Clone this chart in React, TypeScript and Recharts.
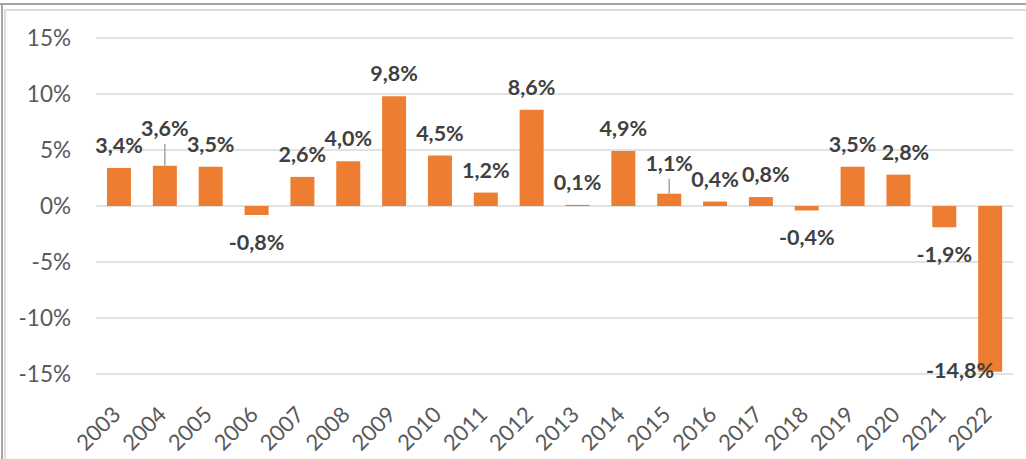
import { BarChart, Bar, XAxis, YAxis, CartesianGrid, LabelList } from "recharts";

const YEARS = ["2003","2004","2005","2006","2007","2008","2009","2010","2011","2012","2013","2014","2015","2016","2017","2018","2019","2020","2021","2022"];
const GROWTH = [3.4, 3.6, 3.5, -0.8, 2.6, 4.0, 9.8, 4.5, 1.2, 8.6, 0.1, 4.9, 1.1, 0.4, 0.8, -0.4, 3.5, 2.8, -1.9, -14.8];
const Y_TICKS = [-15, -10, -5, 0, 5, 10, 15];

const data = YEARS.map((year, i) => ({ year, value: GROWTH[i] }));

// manual label placement, as in the original spreadsheet chart
const NUDGES: Record<string, { dx?: number; dy?: number; leader?: boolean; inside?: boolean }> = {
  "2004": { dy: -15, leader: true },
  "2015": { dy: -8, leader: true },
  "2017": { dx: 5 },
  "2020": { dx: 7 },
  "2022": { dx: -30, inside: true },
};

const FONT = "Lato, 'Open Sans', sans-serif";
const BAR = "#ED7D31";

const fmt = (v: number) => v.toFixed(1).replace(".", ",") + "%";

const BarLabel = (props: any) => {
  const { x, y, width, height, value, index } = props;
  const year = YEARS[index];
  const n = NUDGES[year] || {};
  const top = Math.min(y, y + height);
  const bottom = Math.max(y, y + height);
  const cx = x + width / 2 + (n.dx || 0);
  let cy = value >= 0 ? top - 23 : bottom + 27;
  if (n.inside) cy = bottom - 2;
  cy += n.dy || 0;
  return (
    <g>
      {n.leader && <line x1={x + width / 2} x2={x + width / 2} y1={cy + 16} y2={top} stroke="#a6a6a6" strokeWidth={1.5} />}
      <text x={cx} y={cy} textAnchor="middle" dominantBaseline="central" fill="#404040" fontSize={21.5} fontWeight={700} fontFamily={FONT}>
        {fmt(value)}
      </text>
    </g>
  );
};

const YearTick = ({ x, y, payload }: any) => (
  <text x={x + 3} y={y + 34} transform={`rotate(-45, ${x + 3}, ${y + 34})`} textAnchor="end" fill="#595959" fontSize={22} fontFamily={FONT}>
    {payload.value}
  </text>
);

export default function App() {
  return (
    <div style={{ position: "absolute", left: 0, top: 0, width: 1026, height: 459, background: "#fff", overflow: "hidden" }}>
      <div style={{ position: "absolute", left: 0, top: 3, width: 1026, height: 2, background: "#a6a6a6" }} />
      <div style={{ position: "absolute", left: 1, top: 3, width: 2, height: 456, background: "#a6a6a6" }} />
      <div style={{ position: "absolute", left: 4, top: 9, width: 1022, height: 1.5, background: "#dcdcdc" }} />
      <div style={{ position: "absolute", left: 4, top: 9, width: 1.5, height: 450, background: "#dcdcdc" }} />
      <div style={{ position: "absolute", left: 0, top: 0 }}>
        <BarChart width={1026} height={459} data={data} margin={{ top: 38, right: 13, bottom: 0, left: 0 }}>
          <CartesianGrid vertical={false} stroke="#d9d9d9" strokeWidth={1.5} />
          <XAxis dataKey="year" height={85} axisLine={false} tickLine={false} interval={0} tick={<YearTick />} />
          <YAxis
            width={96}
            domain={[-15, 15]}
            ticks={Y_TICKS}
            axisLine={false}
            tickLine={false}
            tickSize={0}
            tickMargin={25}
            tickFormatter={(v: number) => `${v}%`}
            tick={{ fill: "#595959", fontSize: 22.5, fontFamily: FONT }}
          />
          <Bar dataKey="value" fill={BAR} barSize={24} isAnimationActive={false}>
            <LabelList dataKey="value" content={<BarLabel />} />
          </Bar>
        </BarChart>
      </div>
    </div>
  );
}
